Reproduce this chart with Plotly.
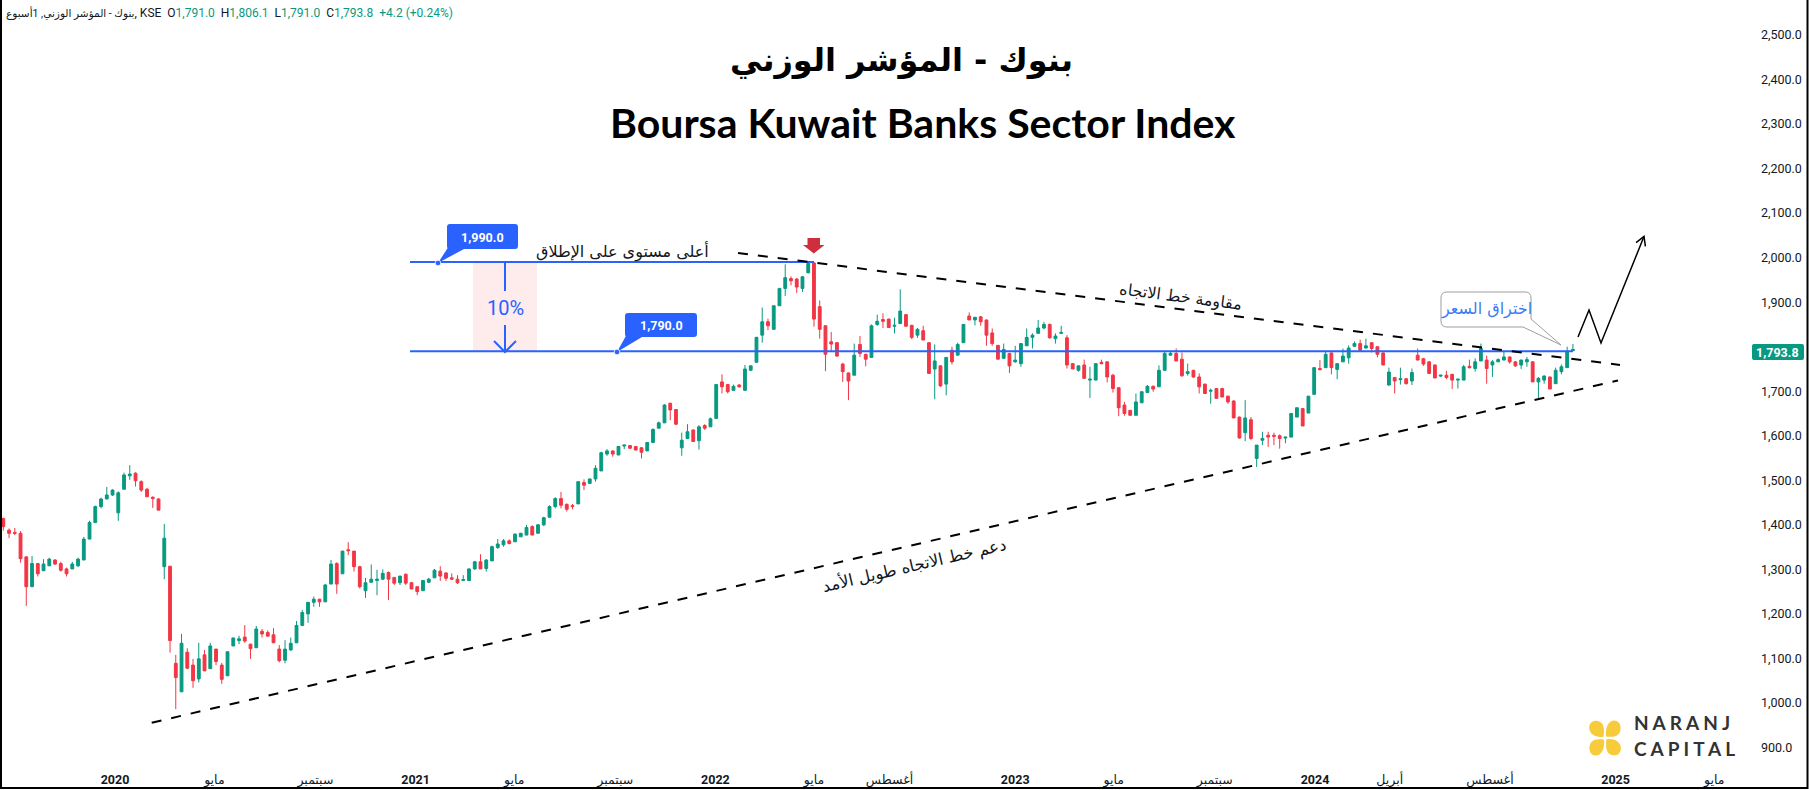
import base64
import pandas as pd
import plotly.graph_objects as go

# ---------------- data (weekly candles) ----------------
WEEK_START = "2019-08-18"
OPEN = [1414, 1388, 1383, 1381, 1328, 1261, 1313, 1297, 1308, 1321, 1313, 1301, 1301, 1308, 1321, 1368, 1405, 1441, 1458, 1467,
        1427, 1480, 1510, 1516, 1497, 1480, 1462, 1458, 1306, 1307, 1089, 1025, 1114, 1085, 1054, 1108, 1077, 1121, 1085, 1061,
        1128, 1140, 1148, 1132, 1124, 1161, 1158, 1153, 1121, 1096, 1119, 1135, 1174, 1200, 1226, 1233, 1227, 1267, 1313, 1290,
        1344, 1341, 1306, 1252, 1271, 1275, 1278, 1293, 1282, 1270, 1289, 1270, 1261, 1252, 1271, 1281, 1296, 1292, 1281, 1278,
        1275, 1275, 1301, 1317, 1302, 1319, 1349, 1355, 1364, 1362, 1373, 1377, 1396, 1381, 1400, 1417, 1441, 1459, 1446, 1443,
        1447, 1495, 1493, 1503, 1521, 1559, 1566, 1557, 1577, 1578, 1576, 1573, 1566, 1585, 1617, 1629, 1673, 1659, 1573, 1594,
        1613, 1589, 1623, 1620, 1639, 1721, 1715, 1702, 1714, 1702, 1747, 1765, 1826, 1856, 1839, 1892, 1931, 1953, 1952, 1931,
        1966, 1988, 1890, 1847, 1811, 1809, 1761, 1741, 1736, 1805, 1783, 1776, 1850, 1861, 1862, 1846, 1852, 1872, 1848, 1826,
        1836, 1809, 1750, 1757, 1716, 1792, 1781, 1809, 1869, 1860, 1867, 1860, 1831, 1803, 1774, 1785, 1766, 1762, 1802, 1821,
        1830, 1842, 1850, 1818, 1830, 1820, 1762, 1747, 1759, 1725, 1725, 1765, 1766, 1736, 1708, 1669, 1657, 1646, 1674, 1697,
        1711, 1710, 1747, 1781, 1785, 1772, 1740, 1747, 1732, 1716, 1700, 1706, 1706, 1689, 1678, 1642, 1607, 1636, 1549, 1590,
        1601, 1601, 1600, 1595, 1597, 1642, 1661, 1651, 1693, 1751, 1753, 1786, 1749, 1766, 1775, 1801, 1807, 1797, 1809, 1800,
        1786, 1714, 1731, 1726, 1728, 1723, 1781, 1773, 1766, 1759, 1734, 1736, 1738, 1725, 1725, 1756, 1751, 1768, 1770, 1759,
        1766, 1770, 1777, 1766, 1759, 1766, 1766, 1721, 1725, 1732, 1717, 1744, 1753, 1791.0]
HIGH = [1416, 1392, 1393, 1386, 1330, 1330, 1314, 1323, 1326, 1323, 1317, 1304, 1317, 1326, 1373, 1409, 1443, 1461, 1485, 1480,
        1475, 1517, 1534, 1518, 1500, 1483, 1464, 1460, 1402, 1308, 1108, 1155, 1123, 1099, 1135, 1119, 1135, 1121, 1090, 1115,
        1146, 1151, 1175, 1133, 1173, 1166, 1163, 1168, 1130, 1141, 1147, 1184, 1209, 1226, 1239, 1234, 1267, 1321, 1316, 1341,
        1361, 1341, 1308, 1281, 1311, 1299, 1300, 1295, 1282, 1285, 1291, 1272, 1262, 1276, 1281, 1301, 1307, 1293, 1291, 1287,
        1287, 1302, 1319, 1334, 1323, 1353, 1368, 1368, 1367, 1381, 1382, 1400, 1399, 1402, 1418, 1444, 1462, 1474, 1448, 1447,
        1497, 1502, 1504, 1534, 1564, 1570, 1567, 1577, 1580, 1579, 1577, 1574, 1585, 1617, 1632, 1671, 1674, 1660, 1607, 1626,
        1614, 1624, 1626, 1641, 1715, 1738, 1716, 1715, 1716, 1759, 1758, 1822, 1888, 1863, 1892, 1931, 1985, 1958, 1954, 1959,
        1990, 1990, 1904, 1848, 1833, 1810, 1764, 1742, 1807, 1824, 1784, 1850, 1872, 1875, 1863, 1865, 1929, 1873, 1849, 1842,
        1847, 1810, 1805, 1758, 1777, 1800, 1809, 1851, 1877, 1867, 1869, 1861, 1841, 1804, 1807, 1786, 1802, 1807, 1841, 1830,
        1860, 1856, 1852, 1830, 1847, 1826, 1763, 1758, 1771, 1755, 1762, 1771, 1767, 1739, 1709, 1676, 1658, 1695, 1699, 1714,
        1713, 1758, 1788, 1791, 1796, 1787, 1762, 1748, 1740, 1717, 1706, 1707, 1708, 1690, 1680, 1643, 1680, 1642, 1579, 1609,
        1609, 1607, 1603, 1597, 1650, 1663, 1662, 1689, 1753, 1770, 1790, 1787, 1763, 1796, 1803, 1812, 1816, 1818, 1810, 1801,
        1787, 1753, 1732, 1753, 1730, 1751, 1796, 1775, 1767, 1760, 1737, 1746, 1739, 1728, 1759, 1771, 1774, 1807, 1780, 1770,
        1774, 1789, 1778, 1767, 1771, 1777, 1767, 1732, 1736, 1733, 1753, 1760, 1800, 1806.1]
LOW = [1387, 1370, 1377, 1315, 1218, 1261, 1284, 1296, 1308, 1310, 1295, 1284, 1301, 1305, 1321, 1368, 1405, 1437, 1458, 1465,
       1409, 1480, 1501, 1486, 1474, 1463, 1438, 1433, 1278, 1113, 986, 1025, 1076, 1034, 1046, 1072, 1077, 1085, 1043, 1061,
       1128, 1132, 1135, 1099, 1124, 1147, 1150, 1135, 1091, 1089, 1117, 1135, 1174, 1180, 1216, 1216, 1227, 1267, 1245, 1290,
       1332, 1295, 1257, 1236, 1271, 1242, 1276, 1231, 1265, 1265, 1265, 1256, 1242, 1252, 1269, 1281, 1274, 1274, 1276, 1267,
       1275, 1275, 1299, 1301, 1295, 1319, 1346, 1351, 1356, 1362, 1373, 1377, 1377, 1381, 1397, 1417, 1437, 1437, 1430, 1435,
       1447, 1478, 1493, 1497, 1521, 1555, 1553, 1556, 1570, 1571, 1567, 1549, 1566, 1585, 1617, 1629, 1635, 1624, 1555, 1594,
       1587, 1569, 1613, 1620, 1639, 1695, 1695, 1701, 1708, 1701, 1746, 1765, 1809, 1837, 1839, 1892, 1914, 1938, 1921, 1923,
       1965, 1845, 1818, 1745, 1790, 1777, 1721, 1680, 1736, 1777, 1756, 1776, 1847, 1842, 1843, 1830, 1852, 1846, 1817, 1820,
       1815, 1740, 1682, 1710, 1691, 1760, 1781, 1809, 1860, 1848, 1847, 1802, 1802, 1772, 1773, 1741, 1764, 1755, 1802, 1796,
       1830, 1839, 1818, 1807, 1829, 1751, 1750, 1744, 1729, 1685, 1725, 1760, 1720, 1697, 1644, 1645, 1645, 1646, 1674, 1697,
       1699, 1710, 1747, 1780, 1768, 1732, 1735, 1730, 1695, 1695, 1672, 1684, 1687, 1672, 1640, 1594, 1588, 1590, 1530, 1579,
       1575, 1579, 1571, 1583, 1597, 1642, 1622, 1651, 1693, 1746, 1753, 1738, 1727, 1766, 1762, 1800, 1789, 1796, 1787, 1776,
       1759, 1712, 1695, 1715, 1715, 1714, 1770, 1757, 1740, 1729, 1732, 1727, 1705, 1706, 1725, 1751, 1744, 1768, 1717, 1732,
       1766, 1770, 1762, 1755, 1750, 1755, 1721, 1685, 1717, 1705, 1717, 1738, 1753, 1791.0]
CLOSE = [1396, 1381, 1381, 1324, 1261, 1313, 1290, 1312, 1323, 1312, 1298, 1290, 1312, 1323, 1368, 1405, 1441, 1458, 1467, 1478,
         1472, 1512, 1514, 1499, 1478, 1463, 1459, 1433, 1370, 1140, 1057, 1134, 1078, 1050, 1099, 1072, 1128, 1093, 1053, 1115,
         1146, 1144, 1139, 1122, 1166, 1155, 1150, 1135, 1095, 1121, 1134, 1174, 1203, 1226, 1233, 1227, 1265, 1312, 1267, 1341,
         1342, 1306, 1261, 1270, 1278, 1278, 1291, 1278, 1269, 1285, 1269, 1256, 1250, 1275, 1278, 1298, 1285, 1280, 1278, 1270,
         1277, 1301, 1317, 1301, 1321, 1351, 1357, 1364, 1358, 1379, 1381, 1394, 1377, 1400, 1416, 1441, 1459, 1444, 1435, 1441,
         1497, 1489, 1503, 1527, 1562, 1566, 1559, 1576, 1579, 1572, 1568, 1563, 1585, 1614, 1629, 1669, 1658, 1626, 1590, 1609,
         1587, 1620, 1617, 1638, 1715, 1710, 1699, 1711, 1710, 1750, 1757, 1821, 1856, 1847, 1892, 1931, 1955, 1948, 1934, 1957,
         1987, 1862, 1839, 1783, 1806, 1779, 1744, 1723, 1781, 1785, 1772, 1847, 1857, 1857, 1843, 1848, 1880, 1846, 1821, 1839,
         1815, 1740, 1768, 1712, 1776, 1766, 1805, 1850, 1860, 1866, 1856, 1826, 1807, 1772, 1794, 1757, 1770, 1807, 1821, 1826,
         1842, 1850, 1820, 1824, 1832, 1759, 1750, 1757, 1729, 1727, 1762, 1762, 1732, 1706, 1663, 1650, 1646, 1676, 1699, 1711,
         1705, 1747, 1785, 1785, 1768, 1735, 1744, 1732, 1710, 1695, 1702, 1684, 1687, 1676, 1640, 1595, 1640, 1594, 1579, 1594,
         1597, 1599, 1594, 1597, 1650, 1663, 1622, 1689, 1753, 1749, 1783, 1753, 1762, 1779, 1797, 1807, 1792, 1802, 1796, 1783,
         1759, 1743, 1723, 1728, 1717, 1742, 1770, 1761, 1740, 1730, 1736, 1731, 1725, 1727, 1755, 1753, 1766, 1796, 1751, 1766,
         1771, 1777, 1766, 1757, 1770, 1771, 1721, 1729, 1734, 1705, 1747, 1755, 1789.6, 1793.8]

ATH_LEVEL = 1990.0
BREAK_LEVEL = 1790.0
LAST_PRICE = 1793.8

Y_TICK_VALUES = [900, 1000, 1100, 1200, 1300, 1400, 1500, 1600, 1700, 1900, 2000, 2100, 2200, 2300, 2400, 2500]
X_TICK_DATES = ["2019-09-01", "2020-01-01", "2020-05-01", "2020-09-01", "2021-01-01", "2021-05-01", "2021-09-01",
                "2022-01-01", "2022-05-01", "2022-08-01", "2023-01-01", "2023-05-01", "2023-09-01", "2024-01-01",
                "2024-04-01", "2024-08-01", "2025-01-01", "2025-05-01"]
X_TICK_LABELS = ["سبتمبر", "<b>2020</b>", "مايو", "سبتمبر", "<b>2021</b>", "مايو", "سبتمبر", "<b>2022</b>", "مايو",
                 "أغسطس", "<b>2023</b>", "مايو", "سبتمبر", "<b>2024</b>", "أبريل", "أغسطس", "<b>2025</b>", "مايو"]

dates = pd.date_range(WEEK_START, periods=len(CLOSE), freq="7D")

# ---------------- layout geometry helpers (pixels -> axis / paper units) ----------------
FIG_W, FIG_H = 1809, 790
PLOT_R, PLOT_B = 1748, 762
DAY0 = pd.Timestamp("2020-01-01")
PX0, PX_PER_YEAR = 115.0, 300.0
PRICE_TOP, PRICE_TOP_PX, PX_PER_UNIT = 2500.0, 35.0, 0.4453


def xd(px):
    return DAY0 + pd.Timedelta(days=(px - PX0) / PX_PER_YEAR * 365.25)


def yv(py):
    return PRICE_TOP - (py - PRICE_TOP_PX) / PX_PER_UNIT


def ppx(x):
    return x / PLOT_R


def ppy(y):
    return (PLOT_B - y) / PLOT_B


def path(pts, close=True):
    s = "M " + " L ".join(f"{ppx(x):.5f},{ppy(y):.5f}" for x, y in pts)
    return s + (" Z" if close else "")


def rrect(x0, y0, x1, y1, r):
    P = lambda x, y: f"{ppx(x):.5f},{ppy(y):.5f}"
    return (f"M {P(x0 + r, y0)} L {P(x1 - r, y0)} Q {P(x1, y0)} {P(x1, y0 + r)} L {P(x1, y1 - r)} "
            f"Q {P(x1, y1)} {P(x1 - r, y1)} L {P(x0 + r, y1)} Q {P(x0, y1)} {P(x0, y1 - r)} "
            f"L {P(x0, y0 + r)} Q {P(x0, y0)} {P(x0 + r, y0)} Z")


BLUE = "#2962FF"
GREEN = "#089981"
RED = "#F23645"
TXT = "#131722"
AR_FONT = "DejaVu Sans"

fig = go.Figure()
fig.add_trace(go.Candlestick(
    x=dates, open=OPEN, high=HIGH, low=LOW, close=CLOSE,
    increasing=dict(line=dict(color=GREEN, width=1), fillcolor=GREEN),
    decreasing=dict(line=dict(color=RED, width=1), fillcolor=RED),
    whiskerwidth=0, hoverinfo="skip", showlegend=False))

shapes = []
# 10% zone
shapes.append(dict(type="rect", xref="x", yref="y", x0=xd(473), x1=xd(537), y0=BREAK_LEVEL, y1=ATH_LEVEL,
                   fillcolor="rgba(242,54,69,0.10)", line=dict(width=0), layer="below"))
# horizontal levels
shapes.append(dict(type="line", xref="x", yref="y", x0=xd(410), x1=dates[141], y0=ATH_LEVEL, y1=ATH_LEVEL,
                   line=dict(color=BLUE, width=2)))
shapes.append(dict(type="line", xref="x", yref="y", x0=xd(410), x1=dates[-1], y0=BREAK_LEVEL, y1=BREAK_LEVEL,
                   line=dict(color=BLUE, width=2)))
# vertical 10% arrow
shapes.append(dict(type="path", xref="paper", yref="paper", path=path([(505, 263), (505, 291)], False),
                   line=dict(color=BLUE, width=2)))
shapes.append(dict(type="path", xref="paper", yref="paper", path=path([(505, 325), (505, 352)], False),
                   line=dict(color=BLUE, width=2)))
shapes.append(dict(type="path", xref="paper", yref="paper", path=path([(494, 341), (505, 352), (516, 341)], False),
                   line=dict(color=BLUE, width=2)))
# trend lines
shapes.append(dict(type="line", xref="x", yref="y", x0=xd(738), y0=yv(253), x1=xd(1620), y1=yv(365),
                   line=dict(color="#000000", width=2, dash="10px,10px")))
shapes.append(dict(type="line", xref="x", yref="y", x0=xd(151.7), y0=yv(722.7), x1=xd(1618), y1=yv(380.5),
                   line=dict(color="#000000", width=2, dash="10px,10px")))
# price label callouts
for (bx0, by0, bx1, by1, tail, dot) in [(447, 224, 518, 249, [(449, 246), (464, 249), (438, 263)], (438, 263)),
                                        (625, 313, 697, 337, [(627, 334), (642, 337), (617, 352)], (617, 352))]:
    shapes.append(dict(type="path", xref="paper", yref="paper", path=rrect(bx0, by0, bx1, by1, 3),
                       fillcolor=BLUE, line=dict(width=0)))
    shapes.append(dict(type="path", xref="paper", yref="paper", path=path(tail), fillcolor=BLUE, line=dict(width=0)))
    shapes.append(dict(type="circle", xref="paper", yref="paper", x0=ppx(dot[0] - 2.8), x1=ppx(dot[0] + 2.8),
                       y0=ppy(dot[1] + 2.8), y1=ppy(dot[1] - 2.8), fillcolor=BLUE, line=dict(color="white", width=0.8)))
# red down arrow at the peak
shapes.append(dict(type="path", xref="paper", yref="paper",
                   path=path([(807.5, 238), (820, 238), (820, 245), (824.5, 245), (813.8, 253.5), (803, 245), (807.5, 245)]),
                   fillcolor="#CF2E3D", line=dict(width=0)))
# breakout callout
P = lambda x, y: f"{ppx(x):.5f},{ppy(y):.5f}"
cpath = (f"M {P(1447, 292)} L {P(1525, 292)} Q {P(1531, 292)} {P(1531, 298)} L {P(1531, 319)} "
         f"L {P(1561, 345)} L {P(1523, 327)} L {P(1447, 327)} Q {P(1441, 327)} {P(1441, 321)} "
         f"L {P(1441, 298)} Q {P(1441, 292)} {P(1447, 292)} Z")
shapes.append(dict(type="path", xref="paper", yref="paper", path=cpath, fillcolor="white",
                   line=dict(color="#9E9E9E", width=1)))
# projected zig-zag path
shapes.append(dict(type="path", xref="paper", yref="paper",
                   path=path([(1578, 337), (1589, 310), (1601, 343), (1644, 236.5)], False),
                   line=dict(color="#000000", width=1.5)))
shapes.append(dict(type="path", xref="paper", yref="paper",
                   path=path([(1636.1, 242.7), (1644, 236.5), (1645.4, 246.4)], False),
                   line=dict(color="#000000", width=1.5)))
# last price tag on axis
shapes.append(dict(type="path", xref="paper", yref="paper", path=rrect(1752, 344, 1804, 360, 2),
                   fillcolor=GREEN, line=dict(width=0)))
# frame
shapes.append(dict(type="rect", xref="paper", yref="paper", x0=ppx(1), x1=ppx(1807.5), y0=ppy(788), y1=ppy(-5),
                   line=dict(color="#000000", width=2), fillcolor="rgba(0,0,0,0)"))

ann = []


def text(x, y, s, size, color=TXT, family="Roboto", xanchor="center", angle=0):
    ann.append(dict(xref="paper", yref="paper", x=ppx(x), y=ppy(y), text=s, showarrow=False, xanchor=xanchor,
                    yanchor="middle", textangle=angle, font=dict(size=size, color=color, family=family)))


g = lambda s: f'<span style="color:{GREEN}">{s}</span>'
nb = "\u00a0\u00a0"
header = (f'<span style="font-size:10.5px">بنوك - المؤشر الوزني, 1أسبوع</span>, KSE{nb}O{g("1,791.0")}{nb}H{g("1,806.1")}{nb}'
          f'L{g("1,791.0")}{nb}C{g("1,793.8")}{nb}{g("+4.2 (+0.24%)")}')
text(4, 13, header, 12, xanchor="left", family="Roboto, DejaVu Sans")
text(902, 60, "<b>بنوك - المؤشر الوزني</b>", 32, color="#000000", family=AR_FONT)
text(923, 122, "<b>Boursa Kuwait Banks Sector Index</b>", 41, color="#000000", family="Lato")
text(482.5, 237, "<b>1,990.0</b>", 12.5, color="white")
text(661, 325.5, "<b>1,790.0</b>", 12.5, color="white")
text(505, 308, "10%", 20, color=BLUE)
text(622, 251, "أعلى مستوى على الإطلاق", 16, family=AR_FONT)
text(1180, 297, "مقاومة خط الاتجاه", 16, family=AR_FONT, angle=7.2)
text(914, 565, "دعم خط الاتجاه طويل الأمد", 16.5, family=AR_FONT, angle=-13.1)
text(1486, 309, "اختراق السعر", 16, color="#3D7BF2", family=AR_FONT)
text(1778, 352, "<b>1,793.8</b>", 12.5, color="white")
text(1632, 722, "<b>N A R A N J</b>", 19, color="#333333", family="Lato", xanchor="left")
text(1632, 748, "<b>C A P I T A L</b>", 19, color="#333333", family="Lato", xanchor="left")

svg = ('<svg xmlns="http://www.w3.org/2000/svg" viewBox="0 0 100 100"><g fill="#F8CB3A">'
       + "".join(f'<path transform="rotate({a} 50 50)" d="M53 46 C50 26 58 6 76 6 C94 6 98 28 88 40 C80 48 66 48 53 46 Z"/>'
                 for a in (0, 90, 180, 270)) + "</g></svg>")
logo_src = "data:image/svg+xml;base64," + base64.b64encode(svg.encode()).decode()

fig.update_layout(
    width=FIG_W, height=FIG_H, margin=dict(l=0, r=FIG_W - PLOT_R, t=0, b=FIG_H - PLOT_B),
    paper_bgcolor="white", plot_bgcolor="white", showlegend=False,
    shapes=shapes, annotations=ann,
    images=[dict(source=logo_src, xref="paper", yref="paper", x=ppx(1587), y=ppy(718), sizex=36 / PLOT_R,
                 sizey=40 / PLOT_B, xanchor="left", yanchor="top", sizing="stretch", layer="above")],
    xaxis=dict(type="date", range=[xd(0), xd(PLOT_R)], rangeslider=dict(visible=False), showgrid=False,
               zeroline=False, showline=False, ticks="", tickvals=X_TICK_DATES, ticktext=X_TICK_LABELS,
               tickfont=dict(family="Roboto, DejaVu Sans", size=12.5, color=TXT), ticklabelstandoff=8,
               fixedrange=True),
    yaxis=dict(side="right", range=[yv(PLOT_B), yv(0)], showgrid=False, zeroline=False, showline=False,
               ticks="", tickvals=Y_TICK_VALUES, ticktext=[f"{v:,.1f}" for v in Y_TICK_VALUES],
               tickfont=dict(family="Roboto", size=12.5, color=TXT), ticklabelstandoff=12, fixedrange=True),
)

fig.write_html("out.html", include_plotlyjs=True, config={"displayModeBar": False},
               post_script="document.body.style.margin='0';document.body.style.overflow='hidden';")
